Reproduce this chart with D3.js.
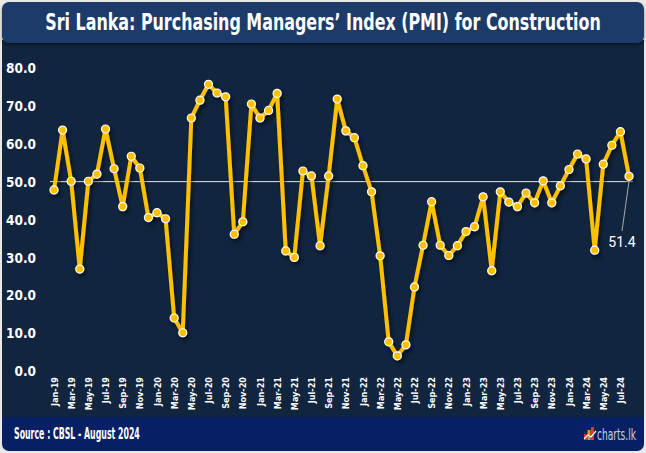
<!DOCTYPE html>
<html><head><meta charset="utf-8">
<script src="https://cdn.jsdelivr.net/npm/d3@7"></script>
<style>html,body{margin:0;padding:0;background:#e9e9e9;}svg{display:block;}</style>
</head><body>
<svg id="c" width="646" height="453"></svg>
<script>
const months = ["Jan","Feb","Mar","Apr","May","Jun","Jul","Aug","Sep","Oct","Nov","Dec"];
const categories = [];
for (let y = 19; y <= 24; y++) for (let m = 0; m < 12; m++) { if (y === 24 && m > 7) break; categories.push(months[m] + "-" + y); }
const pmi = [
  47.8, 63.6, 50.1, 26.9, 50.1, 52.0, 63.9, 53.4, 43.4, 56.7, 53.6, 40.5,
  41.8, 40.2, 14.0, 10.1, 66.8, 71.5, 75.7, 73.4, 72.4, 36.1, 39.4, 70.5,
  66.8, 68.8, 73.3, 31.7, 30.0, 52.8, 51.5, 33.1, 51.5, 71.8, 63.4, 61.6,
  54.2, 47.3, 30.4, 7.7, 4.0, 6.9, 22.2, 33.2, 44.7, 33.2, 30.5, 33.1,
  36.8, 38.1, 46.0, 26.5, 47.3, 44.6, 43.4, 47.0, 44.4, 50.2, 44.4, 48.9,
  53.2, 57.3, 56.0, 31.9, 54.6, 59.6, 63.2, 51.4
];
const yTicks = [0, 10, 20, 30, 40, 50, 60, 70, 80];
const title = "Sri Lanka: Purchasing Managers’ Index (PMI) for Construction";
const source = "Source : CBSL - August 2024";
const threshold = 50;

const svg = d3.select("#c");
const defs = svg.append("defs");
const f = defs.append("filter").attr("id","sh").attr("x","-10%").attr("y","-10%").attr("width","130%").attr("height","130%");
f.append("feDropShadow").attr("dx",2).attr("dy",3).attr("stdDeviation",2).attr("flood-color","#000").attr("flood-opacity",0.55);
const f2 = defs.append("filter").attr("id","tsh").attr("x","-5%").attr("y","-20%").attr("width","110%").attr("height","160%");
f2.append("feDropShadow").attr("dx",0).attr("dy",2).attr("stdDeviation",1.5).attr("flood-color","#000").attr("flood-opacity",0.4);

const narrow = "'Liberation Sans Narrow','DejaVu Sans Condensed',sans-serif";

// fit a text to a target width by horizontal scaling (keeps it real text)
function fitText(sel, x0, y0, w, anchor) {
  sel.attr("x",0).attr("y",0).attr("text-anchor",anchor);
  const nat = sel.node().getComputedTextLength();
  const s = w / nat;
  sel.attr("transform",`translate(${x0},${y0}) scale(${s},1)`);
}

// frame
svg.append("rect").attr("x",2).attr("y",380).attr("width",642).attr("height",71).attr("rx",7).attr("fill","#062063");
svg.append("rect").attr("x",2).attr("y",40).attr("width",642).attr("height",377).attr("fill","#11253f");
svg.append("rect").attr("x",2).attr("y",2).attr("width",642).attr("height",41).attr("rx",7).attr("fill","#1e3a68").attr("filter","url(#tsh)");
const tt = svg.append("text").attr("font-family",narrow).attr("font-weight","bold").attr("font-size",23).attr("fill","#fff").text(title);
fitText(tt, 323, 30, 556, "middle");

const x = d3.scaleLinear().domain([0, categories.length - 1]).range([54, 629]);
const y = d3.scaleLinear().domain([0, 80]).range([371, 68]);

// y axis
const yAxis = d3.axisLeft(y).tickValues(yTicks).tickFormat(d3.format(".1f")).tickSize(0).tickPadding(0);
const ya = svg.append("g").attr("transform","translate(36,0)").call(yAxis);
ya.select(".domain").remove();
ya.selectAll("text").attr("font-family",narrow).attr("font-weight","bold").attr("font-size",13.5).attr("fill","#fff").attr("dy","0.35em");

// x axis
const xAxis = d3.axisBottom(x).tickValues(d3.range(0, categories.length, 2)).tickFormat(i => categories[i]).tickSize(0).tickPadding(0);
const xa = svg.append("g").attr("transform","translate(0,377)").call(xAxis);
xa.select(".domain").remove();
xa.selectAll("text").attr("transform","rotate(-90)").attr("text-anchor","end").attr("x",0).attr("y",0).attr("dy","0.35em")
  .attr("font-family",narrow).attr("font-weight","bold").attr("font-size",9).attr("fill","#fff");

// 50 line
svg.append("line").attr("x1",50).attr("x2",633).attr("y1",y(threshold)).attr("y2",y(threshold)).attr("stroke","#e6e6e6").attr("stroke-width",1);

// series
const g = svg.append("g").attr("filter","url(#sh)");
g.append("path").datum(pmi).attr("fill","none").attr("stroke","#ffc000").attr("stroke-width",4).attr("stroke-linejoin","round")
  .attr("d", d3.line().x((d,i)=>x(i)).y(d=>y(d)));
g.selectAll("circle").data(pmi).join("circle").attr("cx",(d,i)=>x(i)).attr("cy",d=>y(d)).attr("r",4)
  .attr("fill","#ffc000").attr("stroke","#fff").attr("stroke-width",1.2);

// annotation
const li = pmi.length - 1;
svg.append("line").attr("x1",x(li)).attr("y1",y(pmi[li])+5).attr("x2",622).attr("y2",231).attr("stroke","#a8a8a8").attr("stroke-width",1);
svg.append("text").attr("x",622).attr("y",247).attr("text-anchor","middle").attr("font-family","Roboto,sans-serif").attr("font-size",14).attr("fill","#fff").text(pmi[li].toFixed(1));

// footer
const st = svg.append("text").attr("font-family",narrow).attr("font-weight","bold").attr("font-size",15).attr("fill","#fff").text(source);
fitText(st, 14, 439, 126, "start");
const logo = svg.append("g").attr("transform","translate(584,425)");
logo.append("rect").attr("x",0).attr("y",9).attr("width",3).attr("height",6).attr("fill","#e8352b");
logo.append("rect").attr("x",3.5).attr("y",5).attr("width",3).attr("height",10).attr("fill","#f7941d");
logo.append("rect").attr("x",7).attr("y",2).attr("width",3).attr("height",13).attr("fill","#e8352b");
logo.append("polyline").attr("points","0,14 4,10 7,12 12,6").attr("fill","none").attr("stroke","#fff").attr("stroke-width",1.2);
const lt = svg.append("text").attr("font-family",narrow).attr("font-size",16).attr("fill","#d0d0d8").text("charts.lk");
fitText(lt, 597, 440, 39, "start");
</script>
</body></html>
